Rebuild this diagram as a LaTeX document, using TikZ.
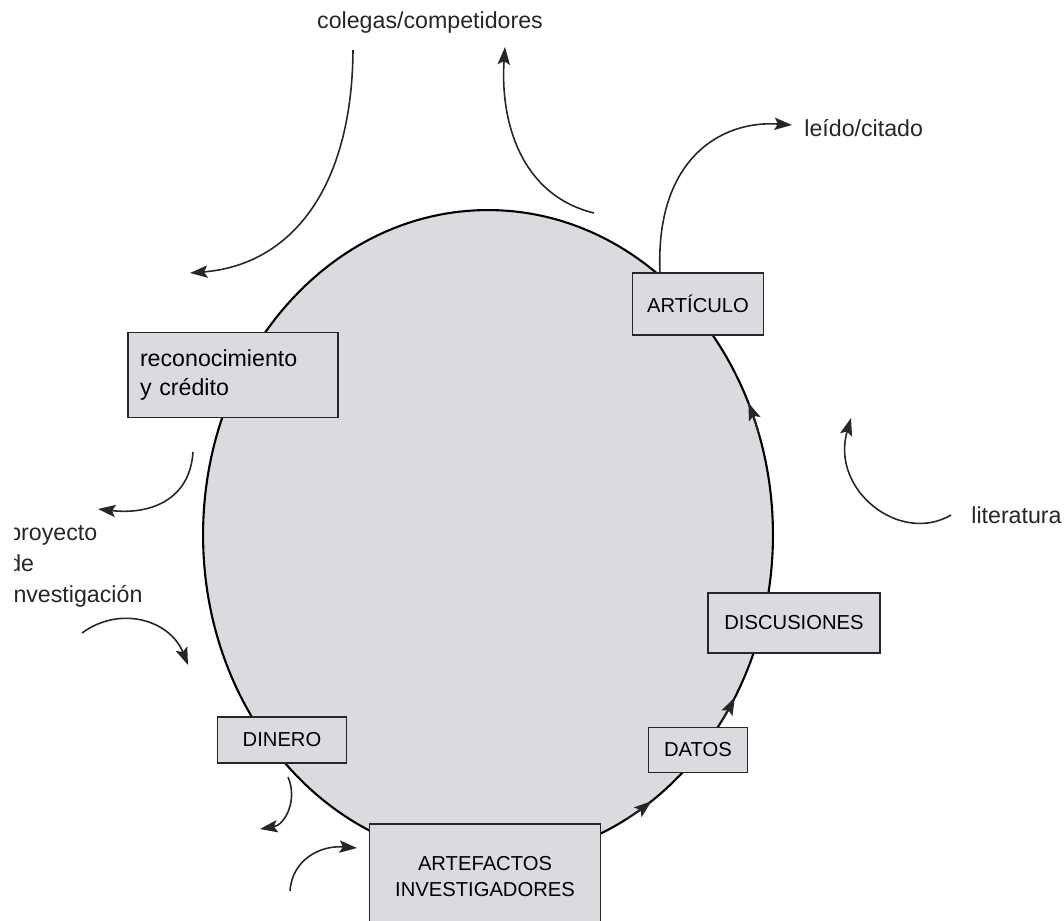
\documentclass[tikz,border=0pt]{standalone}
\usepackage{fontspec}
\setmainfont{Liberation Sans}
\usepackage{tikz}
\usetikzlibrary{shapes.geometric}
\usetikzlibrary{arrows.meta}
\definecolor{relleno}{HTML}{D9DBDE}
\definecolor{trazo}{HTML}{262626}

\begin{document}
\begin{tikzpicture}[x=0.02cm, y=-0.02cm,
    caja/.style={draw=trazo, fill=relleno, line width=1.1pt, inner sep=0pt, align=center, font=\fontsize{11.5}{15.3}\selectfont},
    etiqueta/.style={inner sep=0pt, text=trazo, font=\fontsize{13.2}{17.6}\selectfont},
    flecha/.style={trazo, line width=0.9pt, -{Stealth[length=10pt,width=7pt,inset=2pt]}}]
    \useasboundingbox (0,0) rectangle (1064,920);
    \node[ellipse, draw=black, fill=relleno, line width=1.2pt, inner sep=0pt, minimum width=11.4cm, minimum height=13cm] (ciclo) at (488,535) {};
    \node[caja, minimum width=2.62cm, minimum height=1.24cm] (articulo) at (698,304) {ARTÍCULO};
    \node[caja, minimum width=4.2cm, minimum height=1.7cm, text width=3.72cm, align=left, font=\fontsize{13.2}{17}\selectfont] (credito) at (233,375) {reconocimiento\\y crédito};
    \node[caja, minimum width=3.44cm, minimum height=1.2cm] (discusiones) at (794,623) {DISCUSIONES};
    \node[caja, minimum width=1.98cm, minimum height=0.9cm] (datos) at (698,750) {DATOS};
    \node[caja, minimum width=2.58cm, minimum height=0.92cm] (dinero) at (282,740) {DINERO};
    \node[caja, minimum width=4.62cm, minimum height=2.1cm] (artefactos) at (485,876.5) {ARTEFACTOS\\INVESTIGADORES};
    \node[etiqueta] (colegas) at (430,23) {colegas/competidores};
    \node[etiqueta, anchor=west] (leido) at (804,128) {leído/citado};
    \node[etiqueta, anchor=west] (literatura) at (971,515) {literatura};
    \begin{scope}
        \clip (14,450) rectangle (300,650);
        \node[etiqueta, anchor=west, align=left] (proyecto) at (8,566) {proyecto\\de\\investigación};
    \end{scope}
    \coordinate (colegasin) at (353,50);
    \coordinate (creditoout) at (190,273);
    \coordinate (cicloout) at (594,213);
    \coordinate (colegasout) at (505,47);
    \coordinate (articulout) at (660,273);
    \coordinate (leidoin) at (792,125);
    \coordinate (creditoin) at (193,452);
    \coordinate (proyectoin) at (98,509);
    \coordinate (proyectout) at (82,633);
    \coordinate (cicloin) at (188,665);
    \coordinate (dineroout) at (288,777);
    \coordinate (dineroin) at (260,829);
    \coordinate (artefactosout) at (290,891);
    \coordinate (artefactosin) at (357,848);
    \coordinate (literaturaout) at (951,515);
    \coordinate (literaturain) at (851,418);
    \draw[flecha] (colegasin) .. controls (352,190) and (290,265) .. (creditoout);
    \draw[flecha] (cicloout) .. controls (520,195) and (500,120) .. (colegasout);
    \draw[flecha] (articulout) .. controls (655,160) and (720,120) .. (leidoin);
    \draw[flecha] (creditoin) .. controls (190,500) and (150,515) .. (proyectoin);
    \draw[flecha] (proyectout) .. controls (120,605) and (170,620) .. (cicloin);
    \draw[flecha] (dineroout) .. controls (298,800) and (285,825) .. (dineroin);
    \draw[flecha] (artefactosout) .. controls (292,860) and (320,845) .. (artefactosin);
    \draw[flecha] (literaturaout) .. controls (900,545) and (830,490) .. (literaturain);
    \draw[flecha] (ciclo.center) ++(-18:285 and 325) arc[start angle=-18, end angle=-24, x radius=285, y radius=325];
    \draw[flecha] (ciclo.center) ++(35:285 and 325) arc[start angle=35, end angle=30, x radius=285, y radius=325];
    \draw[flecha] (ciclo.center) ++(61:285 and 325) arc[start angle=61, end angle=55, x radius=285, y radius=325];
\end{tikzpicture}
\end{document}
